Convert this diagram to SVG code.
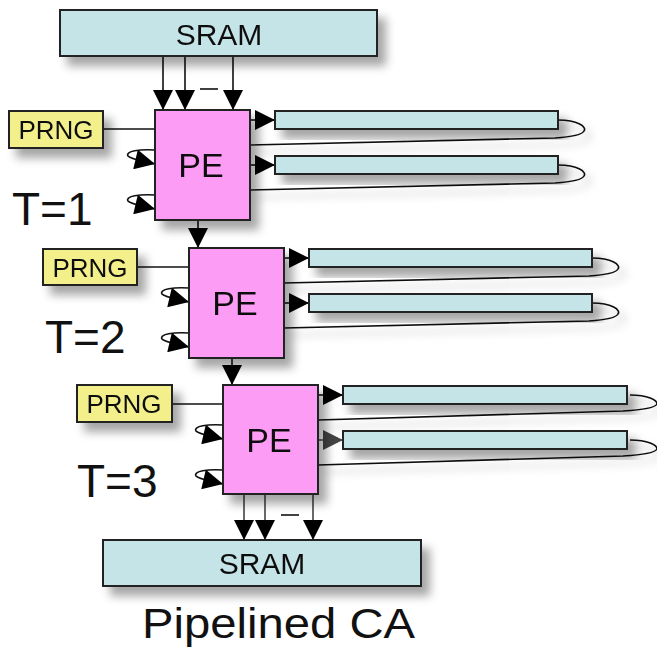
<svg xmlns="http://www.w3.org/2000/svg" width="657" height="650" viewBox="0 0 657 650">
<defs>
<filter id="sh" x="-20%" y="-20%" width="150%" height="180%">
<feDropShadow dx="8" dy="9" stdDeviation="5" flood-color="#000" flood-opacity="0.35"/>
</filter>
<filter id="shl" x="-10%" y="-50%" width="130%" height="300%">
<feDropShadow dx="6" dy="7" stdDeviation="4" flood-color="#000" flood-opacity="0.3"/>
</filter>
<marker id="ah" viewBox="0 0 20 20" markerWidth="20" markerHeight="20" markerUnits="userSpaceOnUse" refX="20" refY="10" orient="auto">
<path d="M0,0 L20,10 L0,20 z" fill="#000"/>
</marker>
<marker id="ahg" viewBox="0 0 20 20" markerWidth="20" markerHeight="20" markerUnits="userSpaceOnUse" refX="20" refY="10" orient="auto">
<path d="M0,0 L20,10 L0,20 z" fill="#444"/>
</marker>
<marker id="ahs" viewBox="0 0 20 20" markerWidth="21" markerHeight="20" markerUnits="userSpaceOnUse" refX="20" refY="10" orient="auto">
<path d="M0,0 L20,10 L0,20 z" fill="#000"/>
</marker>
</defs>
<style>
.sram{fill:#c5e4e7;stroke:#222;stroke-width:2}
.bar{fill:#c5e4e7;stroke:#222;stroke-width:2}
.pe{fill:#fd9cf5;stroke:#222;stroke-width:2}
.prng{fill:#f3f08b;stroke:#222;stroke-width:2}
.c{fill:none;stroke:#111;stroke-width:1.6}
.a{fill:none;stroke:#111;stroke-width:1.6;marker-end:url(#ah)}
.s{fill:none;stroke:#111;stroke-width:1.6;marker-end:url(#ahs)}
text{font-family:"Liberation Sans",Arial,sans-serif;fill:#111}
.mid{text-anchor:middle}
</style>

<g id="connectors">
<g filter="url(#shl)">
<path class="c" d="M558,120 C578,120 587,127 584,131 C582,135 570,137 555,138 L250,145"/>
<path class="c" d="M558,165 C578,165 587,172 584,176 C582,180 570,182 555,183 L250,190"/>
<path class="c" d="M592,258 C612,258 621,265 618,269 C616,273 604,275 589,276 L284,283"/>
<path class="c" d="M592,303 C612,303 621,310 618,314 C616,318 604,320 589,321 L284,328"/>
<path class="c" d="M630,395 C648,395 657,400 657,404 C655,408 640,410 623,411 L318,420"/>
<path class="c" d="M630,440 C648,440 657,445 657,449 C655,453 640,455 623,456 L318,465"/>
</g>
<path class="a" d="M163,56 L163,110"/>
<path class="a" d="M185,56 L185,110"/>
<path class="a" d="M233,56 L233,110"/>
<path class="c" d="M200,89 L218,89"/>
<path class="c" d="M103,129 L155,129"/>
<path class="c" d="M137,267 L189,267"/>
<path class="c" d="M171,404 L223,404"/>
<path class="s" d="M155,150 C140,149 125,151 128,156 C130,159 138,160 155,164"/>
<path class="s" d="M155,195 C140,194 125,196 128,201 C130,204 138,205 155,209"/>
<path class="s" d="M189,288 C174,287 159,289 162,294 C164,297 172,298 189,302"/>
<path class="s" d="M189,333 C174,332 159,334 162,339 C164,342 172,343 189,347"/>
<path class="s" d="M223,425 C208,424 193,426 196,431 C198,434 206,435 223,439"/>
<path class="s" d="M223,470 C208,469 193,471 196,476 C198,479 206,480 223,484"/>
<path class="a" d="M250,120 L275,120"/>
<path class="a" d="M250,165 L275,165"/>
<path class="a" d="M284,258 L309,258"/>
<path class="a" d="M284,303 L309,303"/>
<path class="a" d="M318,395 L343,395"/>
<path d="M318,440 L343,440" fill="none" stroke="#555" stroke-width="1.6" marker-end="url(#ahg)"/>
<path class="a" d="M198,220 L198,248"/>
<path class="a" d="M232,358 L232,385"/>
<path class="a" d="M244,494 L244,540" style="stroke:#444"/>
<path class="a" d="M265,494 L265,540" style="stroke:#444"/>
<path class="a" d="M313,494 L313,540" style="stroke:#444"/>
<path class="c" d="M281,515 L299,515"/>
</g>

<g id="sram-top" filter="url(#sh)">
<rect class="sram" x="60" y="10" width="317" height="46"/>
<text class="mid" x="219" y="45" font-size="30">SRAM</text>
</g>

<g id="prng1" filter="url(#sh)">
<rect class="prng" x="9" y="111" width="94" height="37"/>
<text class="mid" x="56" y="139" font-size="26">PRNG</text>
</g>
<g id="pe1" filter="url(#sh)">
<rect class="pe" x="155" y="110" width="95" height="110"/>
<text class="mid" x="201" y="177" font-size="34">PE</text>
</g>
<g id="bar1a" filter="url(#sh)"><rect class="bar" x="275" y="111" width="283" height="18"/></g>
<g id="bar1b" filter="url(#sh)"><rect class="bar" x="275" y="156" width="283" height="18"/></g>
<text id="t1" x="12" y="225" font-size="46">T=1</text>

<g id="prng2" filter="url(#sh)">
<rect class="prng" x="43" y="249" width="94" height="36"/>
<text class="mid" x="90" y="277" font-size="26">PRNG</text>
</g>
<g id="pe2" filter="url(#sh)">
<rect class="pe" x="189" y="248" width="95" height="110"/>
<text class="mid" x="235" y="315" font-size="34">PE</text>
</g>
<g id="bar2a" filter="url(#sh)"><rect class="bar" x="309" y="249" width="283" height="18"/></g>
<g id="bar2b" filter="url(#sh)"><rect class="bar" x="309" y="294" width="283" height="18"/></g>
<text id="t2" x="45" y="353" font-size="46">T=2</text>

<g id="prng3" filter="url(#sh)">
<rect class="prng" x="77" y="385" width="95" height="37"/>
<text class="mid" x="124" y="413" font-size="26">PRNG</text>
</g>
<g id="pe3" filter="url(#sh)">
<rect class="pe" x="223" y="385" width="95" height="109"/>
<text class="mid" x="269" y="452" font-size="34">PE</text>
</g>
<g id="bar3a" filter="url(#sh)"><rect class="bar" x="343" y="386" width="284" height="18"/></g>
<g id="bar3b" filter="url(#sh)"><rect class="bar" x="343" y="431" width="284" height="18"/></g>
<text id="t3" x="77" y="497" font-size="46">T=3</text>

<g id="sram-bottom" filter="url(#sh)">
<rect class="sram" x="103" y="540" width="318" height="46"/>
<text class="mid" x="262" y="574" font-size="30">SRAM</text>
</g>

<text id="caption" x="142" y="638" font-size="43" textLength="273" lengthAdjust="spacingAndGlyphs">Pipelined CA</text>
</svg>
